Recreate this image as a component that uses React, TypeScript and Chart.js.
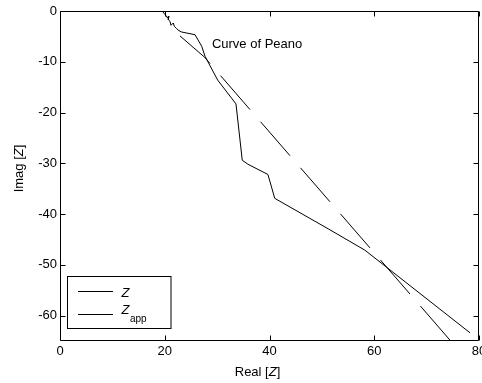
import { useEffect, useRef } from 'react';
import { Chart, registerables } from 'chart.js';

Chart.register(...registerables);

// ---- data ----
const zReal = [19.5, 20.05, 20.56, 20.81, 20.68, 21.0, 21.19, 21.63, 21.82, 22.28, 22.72, 23.24, 25.78, 27.06, 27.69, 30.1, 33.6, 34.8, 35.9, 39.7, 41.0, 51.2, 58.2, 78.3];
const zImag = [0, -0.69, -1.38, -1.04, -1.71, -2.03, -2.82, -2.36, -3.01, -3.49, -3.88, -4.14, -4.67, -6.95, -8.92, -13.6, -18.3, -29.4, -30.2, -32.2, -36.9, -42.9, -47.1, -63.4];
const appReal = [22.9, 27.6, 74.6];
const appImag = [-4.9, -9.1, -65];
const xTickValues = [0, 20, 40, 60, 80];
const xTickLabels = ['0', '20', '40', '60', '80'];
const yTickValues = [0, -10, -20, -30, -40, -50, -60];
const yTickLabels = ['0', '-10', '-20', '-30', '-40', '-50', '-60'];
const annotationText = 'Curve of Peano';
const annotationPos = [29, -6.3];
const legendMain = ['Z', 'Z'];
const legendSub = ['', 'app'];

const FONT = '"Liberation Sans", Arial, Helvetica, sans-serif';

function drawMixed(ctx: CanvasRenderingContext2D, parts: [string, boolean][], x: number, y: number, center: boolean) {
  const fonts = parts.map(([, it]) => (it ? 'italic ' : '') + '13px ' + FONT);
  let total = 0;
  const widths = parts.map(([t], i) => {
    ctx.font = fonts[i];
    const w = ctx.measureText(t).width;
    total += w;
    return w;
  });
  let cx = center ? x - total / 2 : x;
  parts.forEach(([t], i) => {
    ctx.font = fonts[i];
    ctx.fillText(t, cx, y);
    cx += widths[i];
  });
}

const framePlugin = {
  id: 'matlabFrame',
  afterDraw(chart: any) {
    const ctx: CanvasRenderingContext2D = chart.ctx;
    const { left, right, top, bottom } = chart.chartArea;
    const xs = chart.scales.x;
    const ys = chart.scales.y;
    ctx.save();
    ctx.strokeStyle = '#000';
    ctx.fillStyle = '#000';
    ctx.lineWidth = 1;
    // frame
    const L = Math.round(left) + 0.5, R = Math.round(right) - 0.5;
    const T = Math.round(top) + 0.5, B = Math.round(bottom) - 0.5;
    ctx.beginPath();
    ctx.rect(L, T, R - L, B - T);
    ctx.stroke();
    // inward ticks
    const tl = 5;
    ctx.beginPath();
    xTickValues.forEach((v) => {
      const px = Math.round(xs.getPixelForValue(v)) + 0.5;
      ctx.moveTo(px, B);
      ctx.lineTo(px, B - tl);
      ctx.moveTo(px, T);
      ctx.lineTo(px, T + tl);
    });
    yTickValues.forEach((v) => {
      const py = Math.round(ys.getPixelForValue(v)) + 0.5;
      ctx.moveTo(L, py);
      ctx.lineTo(L + tl, py);
      ctx.moveTo(R, py);
      ctx.lineTo(R - tl, py);
    });
    ctx.stroke();

    // annotation
    ctx.font = '13px ' + FONT;
    ctx.textBaseline = 'alphabetic';
    ctx.textAlign = 'left';
    ctx.fillText(annotationText, xs.getPixelForValue(annotationPos[0]), ys.getPixelForValue(annotationPos[1]) + 4.7);

    // axis titles
    drawMixed(ctx, [['Real [', false], ['Z', true], [']', false]], left + 197.5, 376, true);
    ctx.save();
    ctx.translate(22.5, 168.5);
    ctx.rotate(-Math.PI / 2);
    drawMixed(ctx, [['Imag [', false], ['Z', true], [']', false]], 0, 0, true);
    ctx.restore();

    // legend
    const bx = Math.round(left) + 7.5, by = 276.5, bw = 103.5, bh = 52;
    ctx.fillStyle = '#fff';
    ctx.fillRect(bx, by, bw, bh);
    ctx.strokeRect(bx, by, bw, bh);
    ctx.fillStyle = '#000';
    const rows = [291.5, 314.5];
    rows.forEach((ry) => {
      ctx.beginPath();
      ctx.moveTo(bx + 10.5, ry);
      ctx.lineTo(bx + 45.5, ry);
      ctx.stroke();
    });
    ctx.font = 'italic 13px ' + FONT;
    ctx.fillText(legendMain[0], bx + 54, 296.5);
    ctx.fillText(legendMain[1], bx + 54, 313.5);
    const zw = ctx.measureText(legendMain[1]).width;
    ctx.font = '10px ' + FONT;
    ctx.fillText(legendSub[1], bx + 54 + zw + 0.5, 322);
    ctx.restore();
  },
};

export default function App() {
  const ref = useRef<HTMLCanvasElement>(null);
  useEffect(() => {
    document.body.style.margin = '0';
    const chart = new Chart(ref.current as HTMLCanvasElement, {
      type: 'scatter',
      data: {
        datasets: [
          {
            label: 'Z',
            data: zReal.map((x, i) => ({ x, y: zImag[i] })),
            showLine: true,
            borderColor: '#000',
            borderWidth: 1,
            pointRadius: 0,
            fill: false,
            tension: 0,
          },
          {
            label: 'Zapp',
            data: appReal.map((x, i) => ({ x, y: appImag[i] })),
            showLine: true,
            borderColor: '#000',
            borderWidth: 1,
            borderDash: [45, 16],
            borderDashOffset: 4,
            pointRadius: 0,
            fill: false,
            tension: 0,
          },
        ],
      },
      options: {
        animation: false,
        responsive: false,
        devicePixelRatio: 1,
        layout: { padding: { top: 11, right: 3, left: 0, bottom: 0 } },
        plugins: { legend: { display: false }, tooltip: { enabled: false } },
        scales: {
          x: {
            type: 'linear',
            min: 0,
            max: 80,
            afterBuildTicks: (s: any) => {
              s.ticks = xTickValues.map((v) => ({ value: v }));
            },
            afterFit: (s: any) => {
              s.height = 42;
              s.paddingLeft = 0;
              s.paddingRight = 0;
            },
            grid: { display: false, drawTicks: false },
            border: { display: false },
            ticks: {
              font: { family: FONT, size: 13 },
              color: '#000',
              padding: 3,
              maxRotation: 0,
              autoSkip: false,
              callback: (v: any) => xTickLabels[xTickValues.indexOf(Number(v))] ?? '',
            },
          },
          y: {
            type: 'linear',
            min: -65,
            max: 0,
            afterBuildTicks: (s: any) => {
              s.ticks = yTickValues.map((v) => ({ value: v }));
            },
            afterFit: (s: any) => {
              s.width = 60;
              s.paddingTop = 0;
              s.paddingBottom = 0;
            },
            grid: { display: false, drawTicks: false },
            border: { display: false },
            ticks: {
              font: { family: FONT, size: 13 },
              color: '#000',
              padding: 3,
              autoSkip: false,
              callback: (v: any) => yTickLabels[yTickValues.indexOf(Number(v))] ?? '',
            },
          },
        },
      },
      plugins: [framePlugin],
    });
    return () => chart.destroy();
  }, []);
  return <canvas ref={ref} width={482} height={383} style={{ display: 'block' }} />;
}
